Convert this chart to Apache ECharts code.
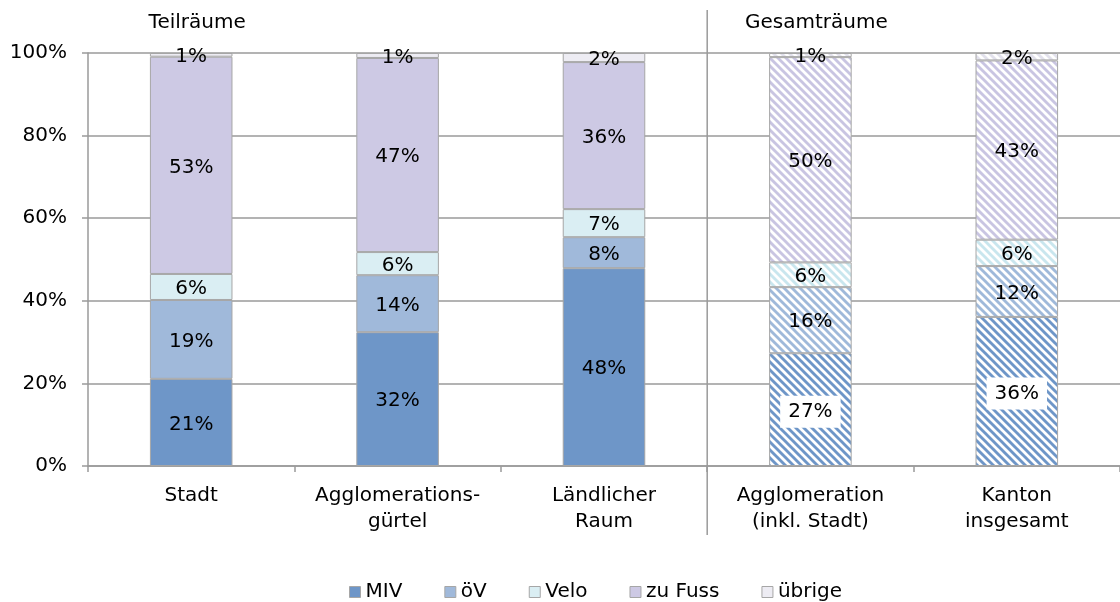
<!DOCTYPE html>
<html><head><meta charset="utf-8">
<script src="https://cdn.jsdelivr.net/npm/echarts@6/dist/echarts.min.js"></script>
<style>html,body{margin:0;padding:0;background:#fff}#c{width:1120px;height:602px}</style>
</head><body><div id="c"></div>
<script>
// ---- data ----
const categories = ['Stadt', 'Agglomerations-\ngürtel', 'Ländlicher\nRaum', 'Agglomeration\n(inkl. Stadt)', 'Kanton\ninsgesamt'];
const seriesNames = ['MIV', 'öV', 'Velo', 'zu Fuss', 'übrige'];
const miv     = [21.1, 32.4, 47.9, 27.3, 36.1];
const oev     = [19.1, 13.8, 7.5, 16.0, 12.3];
const velo    = [6.3, 5.6, 6.8, 6.0, 6.4];
const fuss    = [52.6, 47.0, 35.6, 49.7, 43.4];
const uebrige = [0.9, 1.2, 2.2, 1.0, 1.8];
const groupTitles = ['Teilräume', 'Gesamträume'];
const groupTitleCategory = [0, 3];
const yTicks = [0, 20, 40, 60, 80, 100];

// ---- style ----
const FONT = 'DejaVu Sans';
const FS = 20;
const HATCH_FROM = 3;
const colors = ['#6E96C8', '#A0B9DA', '#DAEEF3', '#CDC9E4', '#EDECF3'];
const hatchColors = ['#6E96C8', '#9FB9DA', '#C9E6EE', '#C9C5E2', '#E2E1EC'];
const GRAY = '#9A9A9A';
const BORDER = '#A6A6A6';

function hatch(color) {
  const s = 8;
  const c = document.createElement('canvas');
  c.width = s; c.height = s;
  const g = c.getContext('2d');
  g.fillStyle = '#fff'; g.fillRect(0, 0, s, s);
  g.strokeStyle = color; g.lineWidth = 2.9;
  for (const x0 of [-s, 0, s]) {
    g.beginPath(); g.moveTo(x0 - 1, -1); g.lineTo(x0 + s + 1, s + 1); g.stroke();
  }
  return { image: c, repeat: 'repeat' };
}

const values = [miv, oev, velo, fuss, uebrige];
const series = seriesNames.map((name, si) => ({
  name, type: 'bar', stack: 'total', barWidth: '40%',
  itemStyle: { color: colors[si], borderColor: BORDER, borderWidth: 1 },
  label: { show: true, position: 'inside', color: '#000', fontFamily: FONT, fontSize: FS, offset: [0, 2],
           formatter: p => Math.round(p.value) + '%' },
  data: values[si].map((v, i) => {
    if (i < HATCH_FROM) return v;
    const item = { value: v, itemStyle: { color: hatch(hatchColors[si]) } };
    if (si === 0) item.label = { backgroundColor: '#fff', padding: [6, 8] };
    return item;
  })
}));

const chart = echarts.init(document.getElementById('c'), null, { renderer: 'canvas' });
const option = {
  animation: false,
  backgroundColor: '#fff',
  textStyle: { fontFamily: FONT },
  grid: { left: 88, right: 0, top: 53, bottom: 136, containLabel: false, outerBoundsMode: 'none' },
  legend: {
    data: seriesNames, left: 349, top: 582, padding: 0, icon: 'rect', itemWidth: 11, itemHeight: 11, itemGap: 42,
    textStyle: { fontFamily: FONT, fontSize: FS, color: '#000' },
    itemStyle: { borderColor: BORDER, borderWidth: 1 }
  },
  xAxis: {
    type: 'category', data: categories,
    axisLine: { show: true, lineStyle: { color: GRAY, width: 1.5 } },
    axisTick: { show: true, length: 6, alignWithLabel: false, lineStyle: { color: GRAY, width: 1.5 } },
    axisLabel: { margin: 17, fontFamily: FONT, fontSize: FS, color: '#000', lineHeight: 26, interval: 0 },
    splitLine: { show: false }
  },
  yAxis: {
    type: 'value', min: yTicks[0], max: yTicks[yTicks.length - 1], interval: yTicks[1] - yTicks[0],
    axisLine: { show: true, lineStyle: { color: GRAY, width: 1.5 } },
    axisTick: { show: true, length: 6, lineStyle: { color: GRAY, width: 1.5 } },
    axisLabel: { formatter: '{value}%', margin: 21, fontFamily: FONT, fontSize: FS, color: '#000' },
    splitLine: { show: true, lineStyle: { color: GRAY, width: 1.5 } }
  },
  series
};
chart.setOption(option);

const px = i => chart.convertToPixel({ xAxisIndex: 0 }, categories[i]);
const sepX = (px(2) + px(3)) / 2;
chart.setOption({
  graphic: [
    { type: 'line', shape: { x1: sepX, y1: 10, x2: sepX, y2: 535 }, style: { stroke: GRAY, lineWidth: 1.5 }, z: 10 },
    ...groupTitles.map((t, k) => ({
      type: 'text', x: px(groupTitleCategory[k]) + 6, y: 23,
      style: { text: t, fill: '#000', font: FS + 'px "' + FONT + '"', textAlign: 'center', textVerticalAlign: 'middle' }
    }))
  ]
});
</script></body></html>
